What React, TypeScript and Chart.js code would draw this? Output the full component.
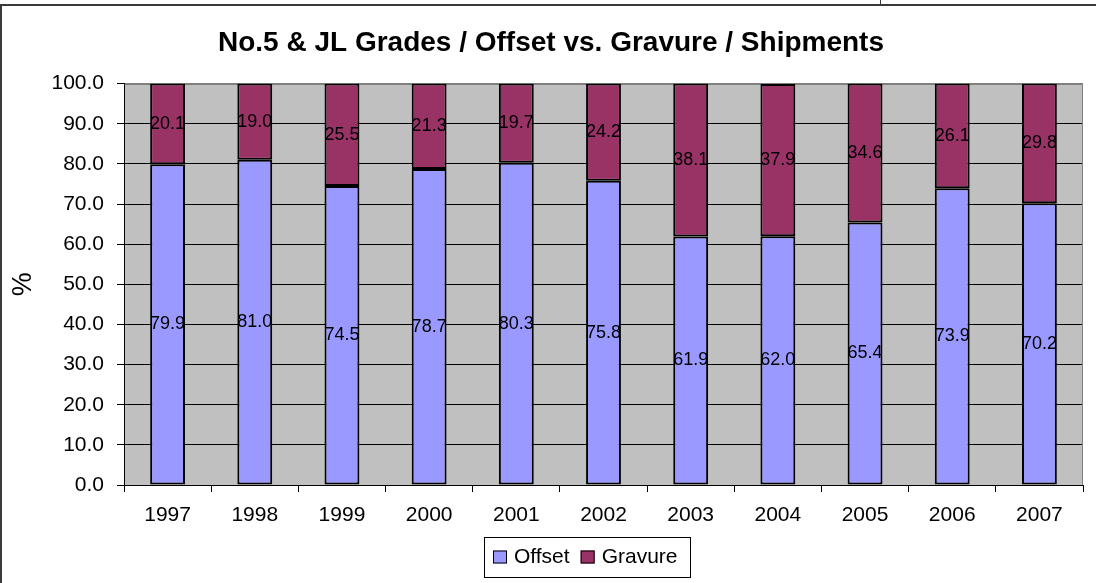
import React, { useEffect, useRef } from "react";
import { Chart, registerables } from "chart.js";

Chart.register(...registerables);

const TITLE = "No.5 & JL Grades / Offset vs. Gravure / Shipments";
const years = ["1997", "1998", "1999", "2000", "2001", "2002", "2003", "2004", "2005", "2006", "2007"];
const offsetValues = [79.9, 81.0, 74.5, 78.7, 80.3, 75.8, 61.9, 62.0, 65.4, 73.9, 70.2];
const gravureValues = [20.1, 19.0, 25.5, 21.3, 19.7, 24.2, 38.1, 37.9, 34.6, 26.1, 29.8];
const seriesNames = ["Offset", "Gravure"];
const seriesColors = ["#9999FF", "#993366"];
const yTitle = "%";

const FONT = "'Liberation Sans', Arial, sans-serif";

const decorPlugin = {
  id: "decor",
  beforeDraw(chart: any) {
    const { ctx, chartArea } = chart;
    ctx.save();
    ctx.fillStyle = "#ffffff";
    ctx.fillRect(0, 0, chart.width, chart.height);
    // outer frame
    ctx.strokeStyle = "#3a3a3a";
    ctx.lineWidth = 2;
    ctx.beginPath();
    ctx.moveTo(1, chart.height + 2);
    ctx.lineTo(1, 5);
    ctx.lineTo(chart.width + 2, 5);
    ctx.stroke();
    ctx.lineWidth = 1;
    ctx.beginPath();
    ctx.moveTo(880.5, 0);
    ctx.lineTo(880.5, 4);
    ctx.stroke();
    // plot background
    ctx.fillStyle = "#C0C0C0";
    ctx.fillRect(chartArea.left, chartArea.top, chartArea.right - chartArea.left, chartArea.bottom - chartArea.top);
    ctx.restore();
  },
  beforeDatasetsDraw(chart: any) {
    const { ctx, chartArea } = chart;
    ctx.save();
    ctx.strokeStyle = "#808080";
    ctx.lineWidth = 1;
    ctx.beginPath();
    ctx.moveTo(Math.round(chartArea.left) + 0.5, Math.round(chartArea.top) + 0.5);
    ctx.lineTo(Math.round(chartArea.right) - 0.5, Math.round(chartArea.top) + 0.5);
    ctx.lineTo(Math.round(chartArea.right) - 0.5, Math.round(chartArea.bottom));
    ctx.stroke();
    ctx.restore();
  },
  afterDatasetsDraw(chart: any) {
    const { ctx } = chart;
    ctx.save();
    ctx.font = `18px ${FONT}`;
    ctx.fillStyle = "#000";
    ctx.textAlign = "center";
    ctx.textBaseline = "middle";
    chart.data.datasets.forEach((ds: any, di: number) => {
      const meta = chart.getDatasetMeta(di);
      meta.data.forEach((el: any, i: number) => {
        const v = ds.data[i];
        const cy = (el.y + el.base) / 2;
        ctx.fillText(Number(v).toFixed(1), el.x, cy);
      });
    });
    ctx.restore();
  },
  afterDraw(chart: any) {
    const { ctx } = chart;
    ctx.save();
    ctx.font = `21px ${FONT}`;
    ctx.textBaseline = "middle";
    const boxX = 484.5, boxY = 537.5, boxW = 206, boxH = 40;
    ctx.strokeStyle = "#000";
    ctx.lineWidth = 1;
    ctx.strokeRect(boxX, boxY, boxW, boxH);
    let x = 493;
    const cy = 557;
    chart.data.datasets.forEach((ds: any) => {
      ctx.fillStyle = ds.backgroundColor;
      ctx.fillRect(x, cy - 6.5, 14, 13);
      ctx.strokeStyle = "#000";
      ctx.strokeRect(x + 0.5, cy - 6, 13, 12);
      ctx.fillStyle = "#000";
      ctx.textAlign = "left";
      ctx.fillText(ds.label, x + 21, cy);
      x += 21 + ctx.measureText(ds.label).width + 11;
    });
    ctx.restore();
  },
};

export default function App() {
  const ref = useRef<HTMLCanvasElement | null>(null);
  useEffect(() => {
    if (!ref.current) return;
    const chart = new Chart(ref.current, {
      type: "bar",
      data: {
        labels: years,
        datasets: [
          {
            label: seriesNames[0],
            data: offsetValues,
            backgroundColor: seriesColors[0],
            borderColor: "#000",
            borderWidth: 2,
            borderSkipped: false,
            inflateAmount: 0,
            barPercentage: 0.4,
            categoryPercentage: 1.0,
          },
          {
            label: seriesNames[1],
            data: gravureValues,
            backgroundColor: seriesColors[1],
            borderColor: "#000",
            borderWidth: 2,
            borderSkipped: false,
            inflateAmount: 0,
            barPercentage: 0.4,
            categoryPercentage: 1.0,
          },
        ],
      },
      options: {
        responsive: false,
        animation: false,
        layout: { padding: { left: 19, right: 13, top: 10, bottom: 0 } },
        plugins: {
          legend: { display: false },
          tooltip: { enabled: false },
          title: {
            display: true,
            text: TITLE,
            color: "#000",
            font: { family: FONT, size: 28, weight: "bold" },
            padding: { top: 16, bottom: 24 },
          },
        },
        scales: {
          x: {
            stacked: true,
            offset: true,
            grid: {
              display: true,
              offset: true,
              drawOnChartArea: false,
              drawTicks: true,
              tickLength: 7,
              tickColor: "#000",
            },
            border: { display: true, color: "#000", width: 1 },
            ticks: { color: "#000", font: { family: FONT, size: 21 }, padding: 11, maxRotation: 0 },
            afterFit(scale: any) {
              scale.height = 98;
            },
          },
          y: {
            stacked: true,
            min: 0,
            max: 100,
            grid: {
              color: (c: any) => (c.tick && c.tick.value === 100 ? "#808080" : "#000"),
              tickColor: "#000",
              tickLength: 7,
              drawTicks: true,
            },
            border: { display: true, color: "#000", width: 1 },
            ticks: {
              stepSize: 10,
              color: "#000",
              font: { family: FONT, size: 21 },
              padding: 13,
              callback: (v: any) => Number(v).toFixed(1),
            },
            title: {
              display: true,
              text: yTitle,
              color: "#000",
              font: { family: FONT, size: 27 },
              padding: { top: -12, bottom: 0 },
            },
            afterFit(scale: any) {
              scale.width = 105;
            },
          },
        },
      },
      plugins: [decorPlugin],
    } as any);
    return () => chart.destroy();
  }, []);
  return (
    <div style={{ position: "fixed", left: 0, top: 0, width: 1096, height: 583 }}>
      <canvas ref={ref} width={1096} height={583} style={{ display: "block" }} />
    </div>
  );
}
